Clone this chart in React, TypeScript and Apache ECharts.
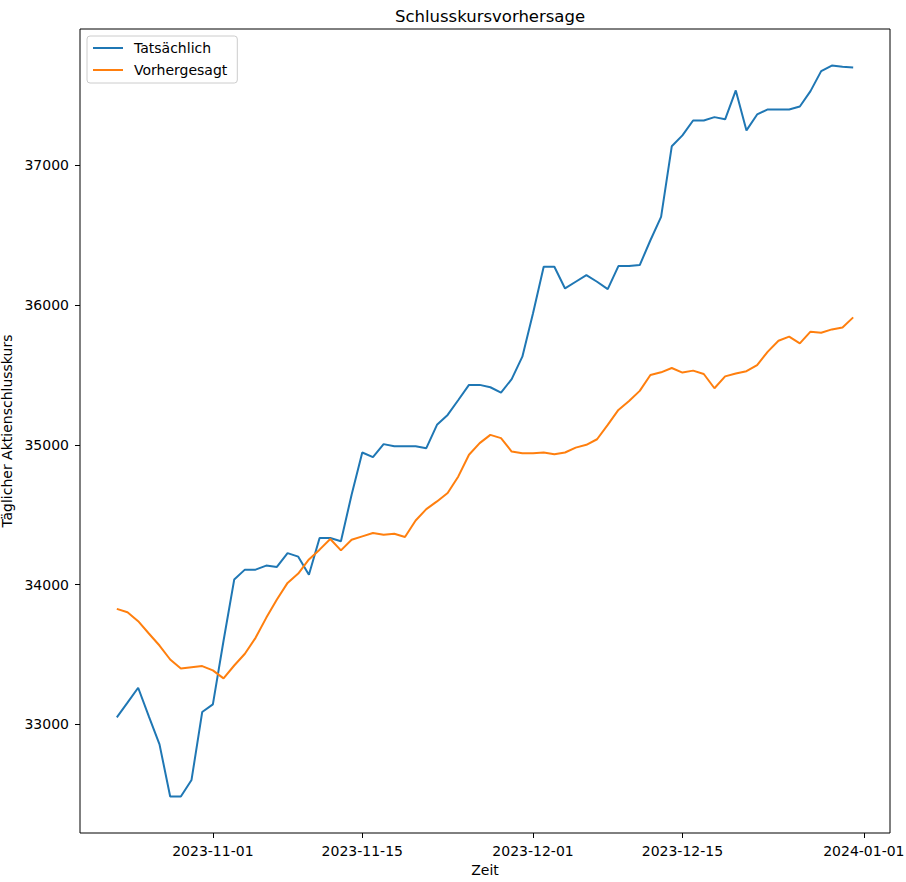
import React, { useEffect, useRef } from "react";
import * as echarts from "echarts";

const startDate = "2023-10-23";
const dayCount = 70;

const actualValues = [
  33050, 33155, 33262, 33057, 32857, 32484, 32484, 32602, 33088, 33143,
  33598, 34036, 34107, 34107, 34136, 34126, 34225, 34200, 34071, 34333,
  34333, 34310, 34643, 34945, 34912, 35005, 34990, 34990, 34990, 34976,
  35143, 35214, 35321, 35429, 35429, 35412, 35374, 35470, 35631, 35941,
  36274, 36274, 36119, 36167, 36214, 36167, 36114, 36279, 36279, 36286,
  36464, 36631, 37136, 37214, 37321, 37321, 37345, 37329, 37536, 37250,
  37364, 37400, 37400, 37400, 37421, 37531, 37674, 37714, 37705, 37700,
];

const predictedValues = [
  33826, 33802, 33738, 33650, 33564, 33464, 33400, 33409, 33417, 33386,
  33329, 33421, 33505, 33619, 33762, 33893, 34012, 34079, 34180, 34250,
  34326, 34245, 34321, 34345, 34369, 34357, 34364, 34340, 34459, 34540,
  34595, 34655, 34774, 34929, 35012, 35071, 35048, 34952, 34940, 34940,
  34945, 34933, 34945, 34980, 35000, 35040, 35143, 35250, 35314, 35386,
  35500, 35519, 35550, 35517, 35531, 35507, 35405, 35490, 35510, 35527,
  35571, 35667, 35745, 35774, 35726, 35810, 35802, 35826, 35840, 35912,
];

const xTickLabels = ["2023-11-01", "2023-11-15", "2023-12-01", "2023-12-15", "2024-01-01"];
const yTickValues = [33000, 34000, 35000, 36000, 37000];

const DAY = 86400000;
const toTs = (s: string) => {
  const [y, m, d] = s.split("-").map(Number);
  return Date.UTC(y, m - 1, d);
};
const startTs = toTs(startDate);
const dates = Array.from({ length: dayCount }, (_, i) => startTs + i * DAY);

const font = "DejaVu Sans";

export default function App() {
  const ref = useRef<HTMLDivElement>(null);
  useEffect(() => {
    if (!ref.current) return;
    const chart = echarts.init(ref.current, undefined, { renderer: "svg" });
    const first = dates[0];
    const last = dates[dates.length - 1];
    const pad = (last - first) * 0.05;
    const yMinData = Math.min(...actualValues, ...predictedValues);
    const yMaxData = Math.max(...actualValues, ...predictedValues);
    const yPad = (yMaxData - yMinData) * 0.05;
    const xTicks = xTickLabels.map(toTs);
    chart.setOption({
      animation: false,
      backgroundColor: "#fff",
      title: {
        text: "Schlusskursvorhersage",
        left: 485,
        top: 3,
        textAlign: "center",
        textStyle: { fontFamily: font, fontSize: 16.5, fontWeight: "normal", color: "#000" },
      },
      legend: {
        orient: "vertical",
        left: 87,
        top: 36,
        padding: [5, 10, 6, 6],
        itemGap: 8,
        itemWidth: 30,
        itemHeight: 2,
        icon: "rect",
        backgroundColor: "rgba(255,255,255,0.8)",
        borderColor: "#cccccc",
        borderWidth: 1,
        borderRadius: 3,
        textStyle: { fontFamily: font, fontSize: 14, color: "#000", padding: [0, 0, 0, 6] },
        data: ["Tatsächlich", "Vorhergesagt"],
      },
      grid: {
        left: 80,
        right: 16,
        top: 29,
        bottom: 49,
        containLabel: false,
        outerBoundsMode: "none",
        show: true,
        borderColor: "#000",
        borderWidth: 1,
        backgroundColor: "transparent",
      },
      xAxis: {
        type: "value",
        min: first - pad,
        max: last + pad,
        name: "Zeit",
        nameLocation: "middle",
        nameGap: 30,
        nameTextStyle: { fontFamily: font, fontSize: 14, color: "#000" },
        axisLine: { show: false },
        splitLine: { show: false },
        axisTick: { show: true, length: 5, lineStyle: { color: "#000" }, customValues: xTicks },
        axisLabel: {
          fontFamily: font,
          fontSize: 14,
          color: "#000",
          margin: 11,
          customValues: xTicks,
          formatter: (v: number) => new Date(v).toISOString().slice(0, 10),
        },
      },
      yAxis: {
        type: "value",
        min: yMinData - yPad,
        max: yMaxData + yPad,
        name: "Täglicher Aktienschlusskurs",
        nameLocation: "middle",
        nameGap: 59,
        nameTextStyle: { fontFamily: font, fontSize: 14, color: "#000" },
        axisLine: { show: false },
        splitLine: { show: false },
        axisTick: { show: true, length: 5, lineStyle: { color: "#000" }, customValues: yTickValues },
        axisLabel: {
          fontFamily: font,
          fontSize: 14,
          color: "#000",
          margin: 11,
          customValues: yTickValues,
          formatter: (v: number) => String(v),
        },
      },
      series: [
        {
          name: "Tatsächlich",
          type: "line",
          showSymbol: false,
          symbol: "none",
          lineStyle: { color: "#1f77b4", width: 2 },
          itemStyle: { color: "#1f77b4" },
          data: dates.map((d, i) => [d, actualValues[i]]),
        },
        {
          name: "Vorhergesagt",
          type: "line",
          showSymbol: false,
          symbol: "none",
          lineStyle: { color: "#ff7f0e", width: 2 },
          itemStyle: { color: "#ff7f0e" },
          data: dates.map((d, i) => [d, predictedValues[i]]),
        },
      ],
    });
    return () => chart.dispose();
  }, []);
  return (
    <div
      ref={ref}
      style={{ position: "absolute", left: 0, top: 0, width: 906, height: 882 }}
    />
  );
}
